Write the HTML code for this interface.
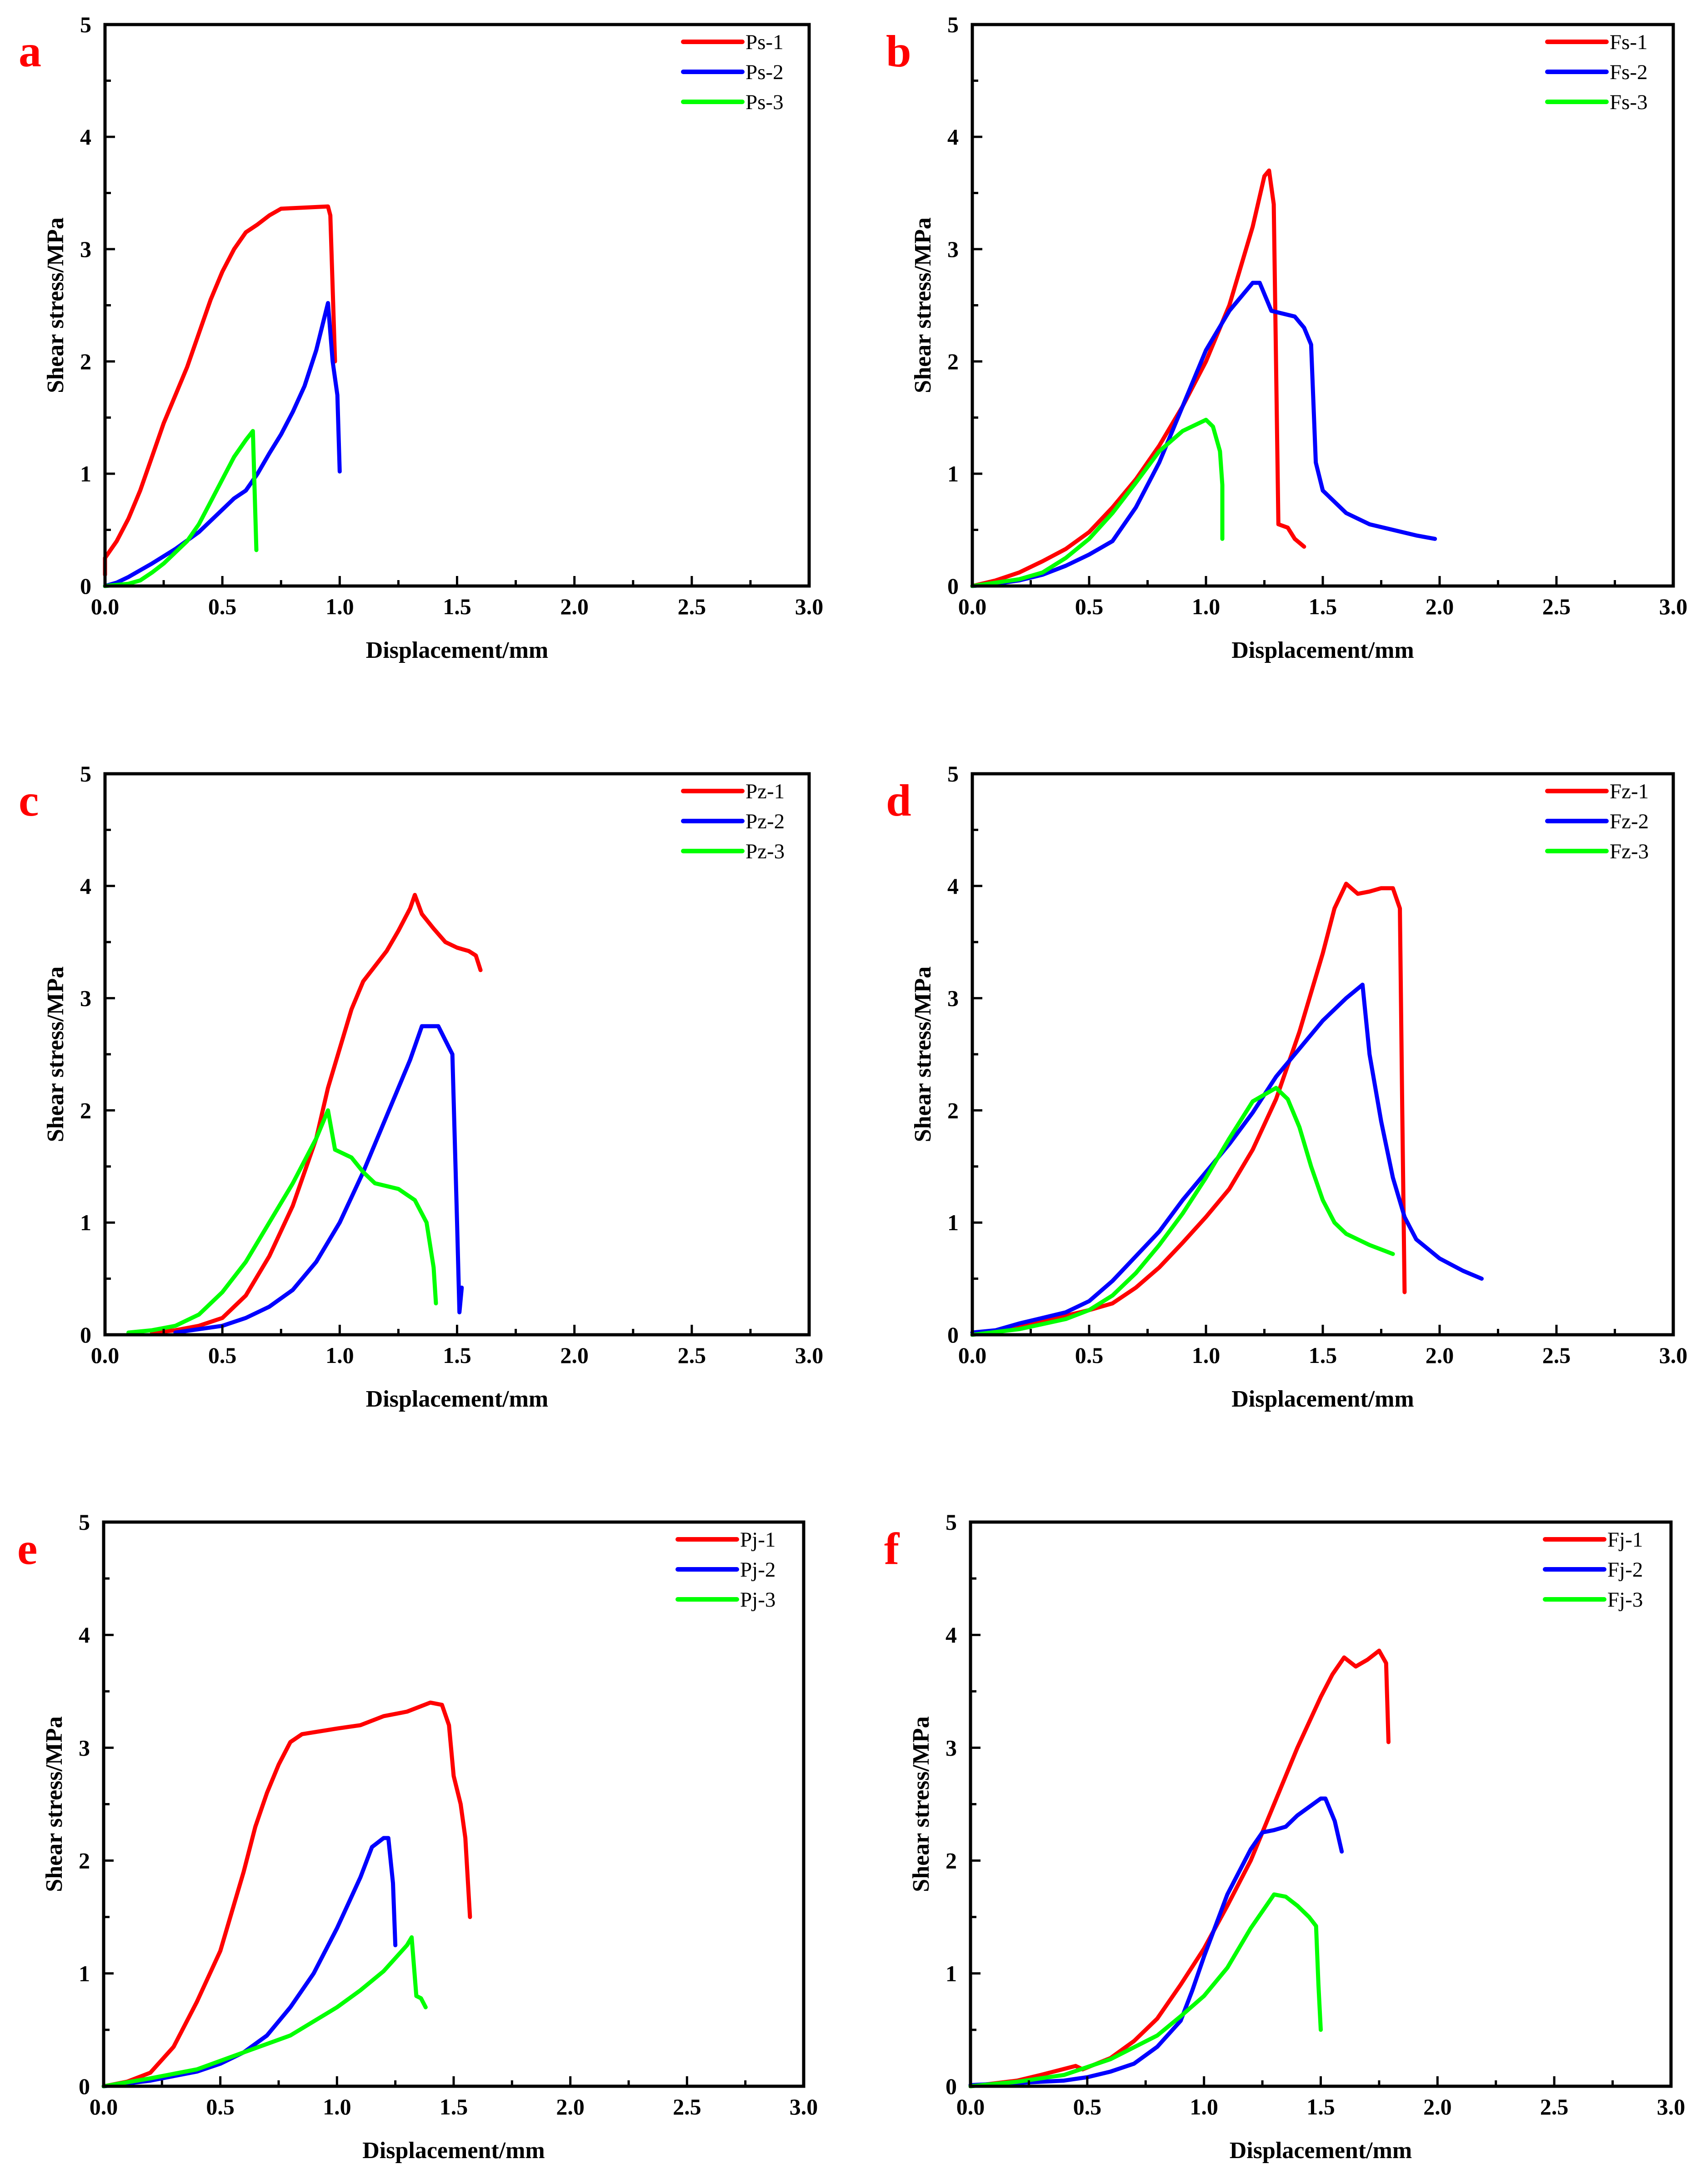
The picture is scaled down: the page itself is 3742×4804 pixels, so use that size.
<!DOCTYPE html>
<html><head><meta charset="utf-8"><style>
html,body{margin:0;padding:0;background:#fff;}
svg{display:block;font-family:"Liberation Serif",serif;}
</style></head><body>
<svg id="fig" width="3742" height="4804" xmlns="http://www.w3.org/2000/svg"></svg>
<script>
const panelLetters = ["a","b","c","d","e","f"];
const xTicks = [0,0.5,1.0,1.5,2.0,2.5,3.0];
const xTickLabels = ["0.0","0.5","1.0","1.5","2.0","2.5","3.0"];
const yTicks = [0,1,2,3,4,5];
const yTickLabels = ["0","1","2","3","4","5"];
const seriesNames = [["Ps-1","Ps-2","Ps-3"],["Fs-1","Fs-2","Fs-3"],["Pz-1","Pz-2","Pz-3"],["Fz-1","Fz-2","Fz-3"],["Pj-1","Pj-2","Pj-3"],["Fj-1","Fj-2","Fj-3"]];
const colors = ["#ff0000","#0000ff","#00ff00"];

const psData = [
 [[0,0.1],[0,0.25],[0.05,0.4],[0.1,0.6],[0.15,0.85],[0.2,1.15],[0.25,1.45],[0.3,1.7],[0.35,1.95],[0.4,2.25],[0.45,2.55],[0.5,2.8],[0.55,3.0],[0.6,3.15],[0.65,3.22],[0.7,3.3],[0.75,3.36],[0.85,3.37],[0.95,3.38],[0.96,3.3],[0.98,2.0]],
 [[0,0],[0.05,0.03],[0.1,0.08],[0.15,0.14],[0.2,0.2],[0.3,0.33],[0.4,0.48],[0.5,0.68],[0.55,0.78],[0.6,0.85],[0.65,1.0],[0.7,1.18],[0.75,1.35],[0.8,1.55],[0.85,1.78],[0.9,2.1],[0.95,2.52],[0.97,2.0],[0.99,1.7],[1.0,1.02]],
 [[0,0],[0.1,0.02],[0.15,0.05],[0.2,0.12],[0.25,0.2],[0.3,0.3],[0.35,0.4],[0.4,0.55],[0.45,0.75],[0.5,0.95],[0.55,1.15],[0.6,1.3],[0.63,1.38],[0.645,0.32]]
];
const fsData = [
 [[0,0],[0.1,0.05],[0.2,0.12],[0.3,0.22],[0.4,0.33],[0.5,0.48],[0.6,0.7],[0.7,0.95],[0.8,1.25],[0.9,1.6],[1.0,2.0],[1.1,2.5],[1.2,3.2],[1.25,3.65],[1.27,3.7],[1.29,3.4],[1.31,0.55],[1.35,0.52],[1.38,0.42],[1.42,0.35]],
 [[0,0],[0.1,0.02],[0.2,0.05],[0.3,0.1],[0.4,0.18],[0.5,0.28],[0.6,0.4],[0.7,0.7],[0.8,1.1],[0.9,1.6],[1.0,2.1],[1.1,2.45],[1.2,2.7],[1.23,2.7],[1.28,2.45],[1.38,2.4],[1.42,2.3],[1.45,2.15],[1.47,1.1],[1.5,0.85],[1.6,0.65],[1.7,0.55],[1.8,0.5],[1.9,0.45],[1.98,0.42]],
 [[0,0],[0.2,0.06],[0.3,0.12],[0.4,0.25],[0.5,0.42],[0.6,0.65],[0.7,0.92],[0.8,1.2],[0.9,1.38],[1.0,1.48],[1.03,1.42],[1.06,1.2],[1.07,0.9],[1.07,0.42]]
];
const pzData = [
 [[0.2,0.02],[0.3,0.04],[0.4,0.08],[0.5,0.15],[0.6,0.35],[0.7,0.7],[0.8,1.15],[0.9,1.75],[0.95,2.2],[1.0,2.55],[1.05,2.9],[1.1,3.15],[1.2,3.42],[1.25,3.6],[1.3,3.8],[1.32,3.92],[1.35,3.75],[1.4,3.62],[1.45,3.5],[1.5,3.45],[1.55,3.42],[1.58,3.38],[1.6,3.25]],
 [[0.3,0.02],[0.4,0.05],[0.5,0.08],[0.6,0.15],[0.7,0.25],[0.8,0.4],[0.9,0.65],[1.0,1.0],[1.1,1.45],[1.2,1.95],[1.3,2.45],[1.35,2.75],[1.42,2.75],[1.48,2.5],[1.5,1.0],[1.51,0.2],[1.52,0.42]],
 [[0.1,0.02],[0.2,0.04],[0.3,0.08],[0.4,0.18],[0.5,0.38],[0.6,0.65],[0.7,1.0],[0.8,1.35],[0.9,1.75],[0.95,2.0],[0.98,1.65],[1.05,1.58],[1.1,1.45],[1.15,1.35],[1.25,1.3],[1.32,1.2],[1.37,1.0],[1.4,0.6],[1.41,0.28]]
];
const fzData = [
 [[0,0],[0.1,0.03],[0.3,0.12],[0.5,0.22],[0.6,0.28],[0.7,0.42],[0.8,0.6],[0.9,0.82],[1.0,1.05],[1.1,1.3],[1.2,1.65],[1.3,2.1],[1.4,2.7],[1.5,3.4],[1.55,3.8],[1.6,4.02],[1.65,3.93],[1.7,3.95],[1.75,3.98],[1.8,3.98],[1.83,3.8],[1.84,2.0],[1.85,0.38]],
 [[0,0.02],[0.1,0.04],[0.2,0.1],[0.3,0.15],[0.4,0.2],[0.5,0.3],[0.6,0.48],[0.7,0.7],[0.8,0.92],[0.9,1.2],[1.0,1.45],[1.1,1.7],[1.2,1.98],[1.3,2.3],[1.4,2.55],[1.5,2.8],[1.6,3.0],[1.67,3.12],[1.7,2.5],[1.75,1.9],[1.8,1.4],[1.85,1.05],[1.9,0.85],[2.0,0.68],[2.1,0.57],[2.18,0.5]],
 [[0,0],[0.2,0.05],[0.4,0.14],[0.5,0.22],[0.6,0.35],[0.7,0.55],[0.8,0.8],[0.9,1.08],[1.0,1.4],[1.1,1.75],[1.2,2.08],[1.3,2.2],[1.35,2.1],[1.4,1.85],[1.45,1.5],[1.5,1.2],[1.55,1.0],[1.6,0.9],[1.7,0.8],[1.8,0.72]]
];
const pjData = [
 [[0,0],[0.1,0.04],[0.2,0.12],[0.3,0.35],[0.4,0.75],[0.5,1.2],[0.55,1.55],[0.6,1.9],[0.65,2.3],[0.7,2.6],[0.75,2.85],[0.8,3.05],[0.85,3.12],[1.0,3.17],[1.1,3.2],[1.2,3.28],[1.3,3.32],[1.4,3.4],[1.45,3.38],[1.48,3.2],[1.5,2.75],[1.53,2.5],[1.55,2.2],[1.57,1.5]],
 [[0,0],[0.2,0.05],[0.4,0.13],[0.5,0.2],[0.6,0.3],[0.7,0.45],[0.8,0.7],[0.9,1.0],[1.0,1.4],[1.1,1.85],[1.15,2.12],[1.2,2.2],[1.22,2.2],[1.24,1.8],[1.25,1.25]],
 [[0,0],[0.2,0.07],[0.4,0.15],[0.6,0.3],[0.8,0.45],[1.0,0.7],[1.1,0.85],[1.2,1.02],[1.3,1.25],[1.32,1.32],[1.34,0.8],[1.36,0.78],[1.38,0.7]]
];
const fjData = [
 [[0,0],[0.2,0.05],[0.3,0.1],[0.45,0.18],[0.48,0.15],[0.6,0.25],[0.7,0.4],[0.8,0.6],[0.9,0.9],[1.0,1.22],[1.1,1.6],[1.2,2.0],[1.3,2.5],[1.4,3.0],[1.5,3.45],[1.55,3.65],[1.6,3.8],[1.65,3.72],[1.7,3.78],[1.75,3.86],[1.78,3.75],[1.79,3.05]],
 [[0,0.01],[0.2,0.03],[0.4,0.05],[0.5,0.08],[0.6,0.13],[0.7,0.2],[0.8,0.35],[0.9,0.58],[0.95,0.85],[1.0,1.15],[1.1,1.7],[1.2,2.1],[1.25,2.25],[1.3,2.27],[1.35,2.3],[1.4,2.4],[1.5,2.55],[1.52,2.55],[1.56,2.35],[1.59,2.08]],
 [[0,0],[0.2,0.04],[0.4,0.1],[0.6,0.24],[0.8,0.45],[0.9,0.62],[1.0,0.8],[1.1,1.05],[1.2,1.4],[1.3,1.7],[1.35,1.68],[1.4,1.6],[1.45,1.5],[1.48,1.42],[1.49,0.9],[1.5,0.5]]
];
const allData = [psData, fsData, pzData, fzData, pjData, fjData];

// layout: [left, right, top, bottom]
const boxes = [[231,1780,54,1289],[2139,3681,54,1289],[231,1780,1702,2936],[2139,3681,1702,2936],[228,1768,3348,4589],[2135,3676,3348,4589]];
const XMAX = 3, YMAX = 5;
const NS = "http://www.w3.org/2000/svg";
const svg = document.getElementById('fig');
function mk(tag, attrs, parent){const e=document.createElementNS(NS,tag);for(const k in attrs)e.setAttribute(k,attrs[k]);(parent||svg).appendChild(e);return e;}

boxes.forEach((b,pi)=>{
  const [L,R,T,B]=b;
  const sx=v=>L+(v/XMAX)*(R-L);
  const sy=v=>B-(v/YMAX)*(B-T);
  const g=mk('g',{});
  
  
  // series
  allData[pi].forEach((s,si)=>{
    const d=s.map((p,i)=>(i?'L':'M')+sx(p[0]).toFixed(1)+' '+sy(p[1]).toFixed(1)).join(' ');
    const path=mk('path',{d:d,fill:'none',stroke:colors[si],'stroke-width':9,'stroke-linejoin':'round','stroke-linecap':'round'},g);
    
    
  });
  // frame
  const fr=mk('rect',{x:L,y:T,width:R-L,height:B-T,fill:'none',stroke:'#000','stroke-width':7},g);
  
  
  // x ticks
  for(let v=0;v<=XMAX+1e-9;v+=0.25){
    const major=Math.abs(v*2-Math.round(v*2))<1e-6;
    mk('line',{x1:sx(v),x2:sx(v),y1:B,y2:B-(major?22:13),stroke:'#000','stroke-width':5},g);
  }
  for(let v=0;v<=YMAX+1e-9;v+=0.5){
    const major=Math.abs(v-Math.round(v))<1e-6;
    mk('line',{x1:L,x2:L+(major?22:13),y1:sy(v),y2:sy(v),stroke:'#000','stroke-width':5},g);
  }
  xTicks.forEach((v,i)=>{
    const t=mk('text',{x:sx(v),y:B+62,'font-size':50,'font-weight':'bold','text-anchor':'middle'},g);
    t.textContent=xTickLabels[i];
    
    
  });
  yTicks.forEach((v,i)=>{
    const t=mk('text',{x:L-30,y:sy(v)+17,'font-size':50,'font-weight':'bold','text-anchor':'end'},g);
    t.textContent=yTickLabels[i];
    
    
  });
  const xt=mk('text',{x:(L+R)/2,y:B+158,'font-size':52,'font-weight':'bold','text-anchor':'middle'},g);
  xt.textContent='Displacement/mm';
  
  
  const yx=L-92, yy=(T+B)/2;
  const yt=mk('text',{x:yx,y:yy,'font-size':52,'font-weight':'bold','text-anchor':'middle',transform:`rotate(-90 ${yx} ${yy})`},g);
  yt.textContent='Shear stress/MPa';
  
  
  const pl=mk('text',{x:L-190,y:T+92,'font-size':100,'font-weight':'bold',fill:'#ff0000'},g);
  pl.textContent=panelLetters[pi];
  
  
  // legend
  seriesNames[pi].forEach((n,si)=>{
    const ly=T+38+si*66;
    const lx=R-277;
    const ln=mk('line',{x1:lx,x2:lx+130,y1:ly,y2:ly,stroke:colors[si],'stroke-width':10,'stroke-linecap':'round'},g);
    
    
    const lt=mk('text',{x:lx+137,y:ly+16,'font-size':47},g);
    lt.textContent=n;
    
    
  });
});
</script>
</body></html>
